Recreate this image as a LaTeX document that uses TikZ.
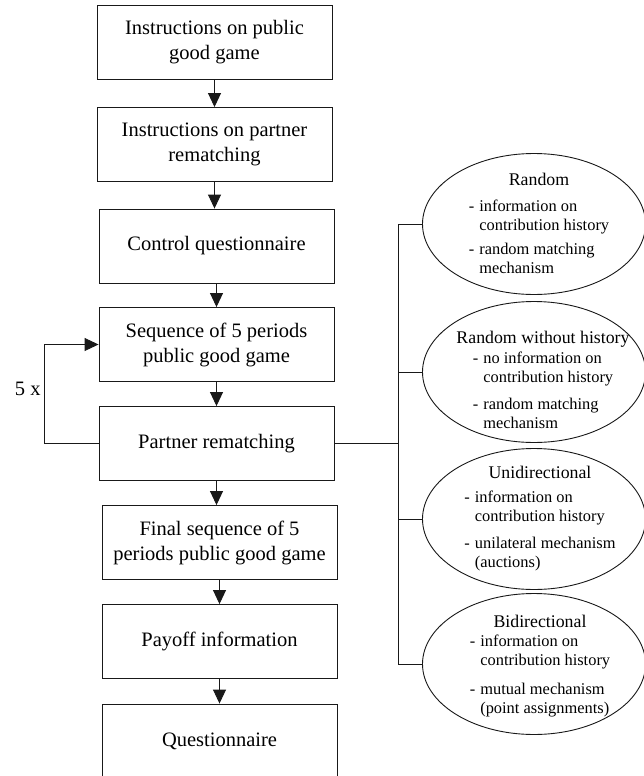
\documentclass[tikz,border=0pt]{standalone}
\usepackage{fontspec}
\setmainfont{Liberation Serif}
\usetikzlibrary{shapes.geometric, arrows.meta, positioning}
\newcommand{\headfont}{\fontsize{17.8}{19}\selectfont}

\begin{document}
\begin{tikzpicture}[
    x=1pt, y=-1pt,
    line width=0.9pt,
    stage/.style={rectangle, draw=black!90, minimum width=235pt, minimum height=74pt, inner sep=0pt, align=center, font=\fontsize{20.5}{25}\selectfont},
    choice/.style={ellipse, draw=black!90, minimum width=223pt, minimum height=141pt, inner sep=0pt},
    choicetext/.style={anchor=base, inner sep=0pt, font=\fontsize{16.4}{19}\selectfont},
    arrow/.style={draw=black!90, -{Triangle[width=13pt,length=14pt]}},
    link/.style={draw=black!90}
]

\useasboundingbox (0,0) rectangle (644,776);

% Stages of the session
\node[stage] (b1) at (214.5,42) {Instructions on public\\good game};
\node[stage] (b2) at (214.5,144.5) {Instructions on partner\\rematching};
\node[stage] (b3) at (216.5,246) {Control questionnaire};
\node[stage] (b4) at (216.5,344.5) {Sequence of 5 periods\\public good game};
\node[stage] (b5) at (216.5,443.5) {Partner rematching};
\node[stage] (b6) at (219.5,542.5) {Final sequence of 5\\periods public good game};
\node[stage] (b7) at (219.5,641.5) {Payoff information};
\node[stage] (b8) at (219.5,741) {Questionnaire};

% Arrows between stages
\draw[arrow] (b1.south) -- (b1.south |- b2.north);
\draw[arrow] (b2.south) -- (b2.south |- b3.north);
\draw[arrow] (b3.south) -- (b3.south |- b4.north);
\draw[arrow] (b4.south) -- (b4.south |- b5.north);
\draw[arrow] (b5.south) -- (b5.south |- b6.north);
\draw[arrow] (b6.south) -- (b6.south |- b7.north);
\draw[arrow] (b7.south) -- (b7.south |- b8.north);

% Repetition loop
\draw[arrow] (b5.west) -- ++(-54,0) |- (b4.west);
\node[anchor=base east, inner sep=0pt, font=\fontsize{20.5}{25}\selectfont] (reps) at (41,395) {5 x};

% Treatments
\node[choice] (rnd) at (534,224) {};
\node[choicetext] (rndtxt) at (539,185) {%
\begin{tabular}[t]{@{}c@{}}
{\headfont Random}\\[7pt]
\begin{tabular}[t]{@{}l@{\hspace{5pt}}l@{}}
- & information on\\
  & contribution history\\[5pt]
- & random matching\\
  & mechanism
\end{tabular}
\end{tabular}};

\node[choice] (rnw) at (534,372) {};
\node[choicetext] (rnwtxt) at (543,343) {%
\begin{tabular}[t]{@{}c@{}}
{\headfont Random without history}\\[1pt]
\begin{tabular}[t]{@{}l@{\hspace{5pt}}l@{}}
- & no information on\\
  & contribution history\\[8pt]
- & random matching\\
  & mechanism
\end{tabular}
\end{tabular}};

\node[choice] (uni) at (534,519) {};
\node[choicetext] (unitxt) at (540,478) {%
\begin{tabular}[t]{@{}c@{}}
{\headfont Unidirectional}\\[5pt]
\begin{tabular}[t]{@{}l@{\hspace{5pt}}l@{}}
- & information on\\
  & contribution history\\[8pt]
- & unilateral mechanism\\
  & (auctions)
\end{tabular}
\end{tabular}};

\node[choice] (bid) at (534,664) {};
\node[choicetext] (bidtxt) at (540,627) {%
\begin{tabular}[t]{@{}c@{}}
{\headfont Bidirectional}\\[0pt]
\begin{tabular}[t]{@{}l@{\hspace{5pt}}l@{}}
- & information on\\
  & contribution history\\[10pt]
- & mutual mechanism\\
  & (point assignments)
\end{tabular}
\end{tabular}};

% Bracket to the treatments
\coordinate (spine) at (398,443.5);
\draw[link] (b5.east) -- (spine);
\draw[link] (rnd.west) -| (spine);
\draw[link] (bid.west) -| (spine);
\draw[link] (rnw.west) -- (rnw.west -| spine);
\draw[link] (uni.west) -- (uni.west -| spine);

\end{tikzpicture}
\end{document}
